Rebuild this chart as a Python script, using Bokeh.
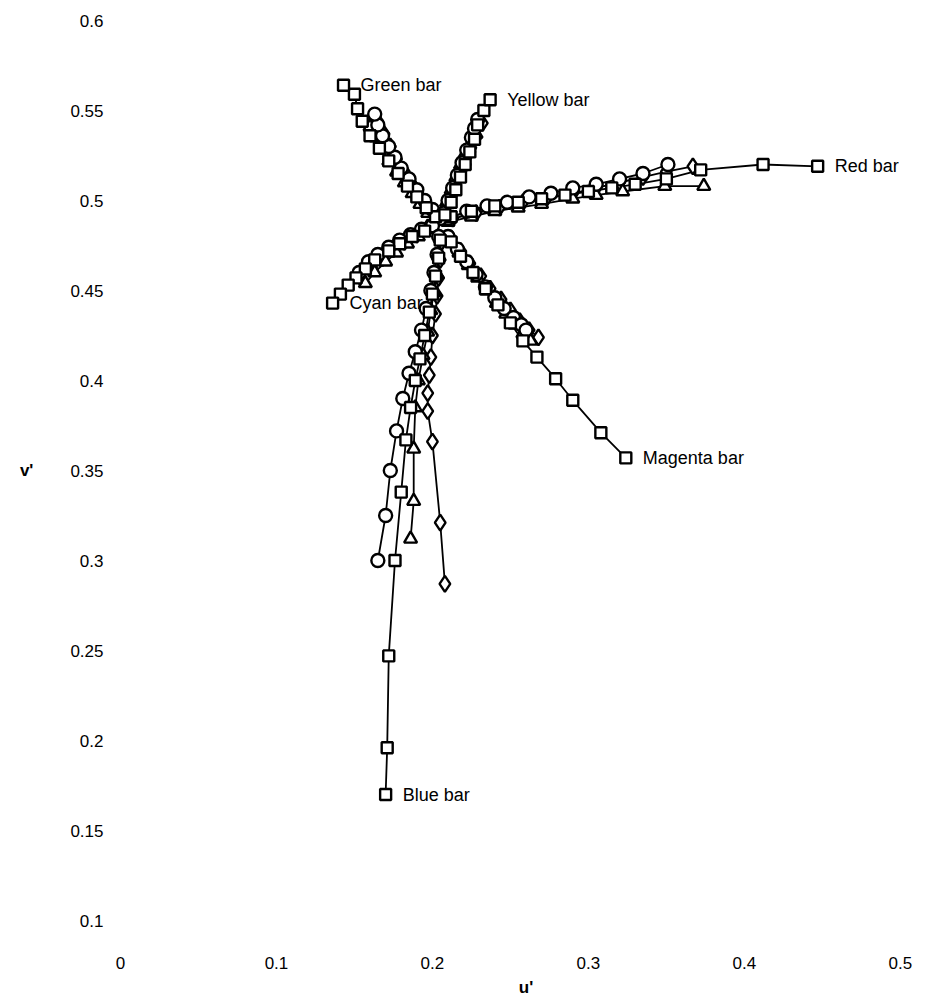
from bokeh.plotting import figure
from bokeh.models import FixedTicker, Range1d
from bokeh.embed import file_html
from bokeh.resources import INLINE
from bokeh.core.properties import value

# ---------------- data (u', v') ----------------
X_TICKS = [0, 0.1, 0.2, 0.3, 0.4, 0.5]
Y_TICKS = [0.1, 0.15, 0.2, 0.25, 0.3, 0.35, 0.4, 0.45, 0.5, 0.55, 0.6]

BAR_NAMES = ["Red bar", "Green bar", "Yellow bar", "Cyan bar", "Magenta bar", "Blue bar"]

# Red bar
red_sq_u = [0.212, 0.225, 0.240, 0.255, 0.270, 0.285, 0.300, 0.315, 0.330, 0.350, 0.372, 0.412, 0.447]
red_sq_v = [0.491, 0.494, 0.497, 0.499, 0.501, 0.503, 0.505, 0.507, 0.509, 0.512, 0.517, 0.520, 0.519]
red_ci_u = [0.210, 0.222, 0.235, 0.248, 0.262, 0.276, 0.290, 0.305, 0.320, 0.335, 0.351]
red_ci_v = [0.490, 0.494, 0.497, 0.499, 0.502, 0.504, 0.507, 0.509, 0.512, 0.515, 0.520]
red_tr_u = [0.210, 0.225, 0.240, 0.255, 0.270, 0.290, 0.305, 0.322, 0.349, 0.374]
red_tr_v = [0.488, 0.491, 0.494, 0.496, 0.498, 0.501, 0.503, 0.505, 0.508, 0.508]
red_di_u = [0.213, 0.228, 0.243, 0.258, 0.273, 0.290, 0.305, 0.320, 0.335, 0.350, 0.367]
red_di_v = [0.490, 0.493, 0.496, 0.499, 0.501, 0.504, 0.507, 0.510, 0.513, 0.516, 0.519]

# Green bar
green_sq_u = [0.202, 0.196, 0.190, 0.184, 0.178, 0.172, 0.166, 0.160, 0.155, 0.152, 0.150, 0.143]
green_sq_v = [0.491, 0.496, 0.502, 0.508, 0.515, 0.522, 0.529, 0.536, 0.544, 0.551, 0.559, 0.564]
green_ci_u = [0.205, 0.200, 0.195, 0.190, 0.185, 0.180, 0.176, 0.172, 0.168, 0.165, 0.163]
green_ci_v = [0.490, 0.495, 0.500, 0.506, 0.512, 0.518, 0.524, 0.530, 0.536, 0.542, 0.548]
green_tr_u = [0.202, 0.197, 0.192, 0.187, 0.182, 0.177, 0.172, 0.168, 0.164, 0.160]
green_tr_v = [0.489, 0.493, 0.498, 0.504, 0.510, 0.516, 0.522, 0.529, 0.535, 0.541]
green_di_u = [0.202, 0.197, 0.192, 0.187, 0.182, 0.177, 0.173, 0.169, 0.165]
green_di_v = [0.490, 0.496, 0.502, 0.509, 0.516, 0.523, 0.530, 0.537, 0.544]

# Yellow bar
yellow_sq_u = [0.208, 0.212, 0.215, 0.218, 0.221, 0.224, 0.227, 0.229, 0.233, 0.237]
yellow_sq_v = [0.492, 0.499, 0.506, 0.513, 0.520, 0.527, 0.534, 0.542, 0.550, 0.556]
yellow_ci_u = [0.207, 0.210, 0.213, 0.216, 0.219, 0.222, 0.225, 0.227, 0.229]
yellow_ci_v = [0.493, 0.500, 0.507, 0.514, 0.521, 0.528, 0.535, 0.540, 0.545]
yellow_tr_u = [0.206, 0.209, 0.212, 0.215, 0.218, 0.221, 0.224, 0.228]
yellow_tr_v = [0.492, 0.499, 0.506, 0.513, 0.520, 0.526, 0.531, 0.537]
yellow_di_u = [0.207, 0.210, 0.214, 0.217, 0.221, 0.224, 0.228, 0.232]
yellow_di_v = [0.491, 0.498, 0.505, 0.513, 0.520, 0.527, 0.535, 0.543]

# Cyan bar
cyan_sq_u = [0.195, 0.187, 0.179, 0.172, 0.163, 0.157, 0.151, 0.146, 0.141, 0.136]
cyan_sq_v = [0.483, 0.480, 0.476, 0.472, 0.467, 0.462, 0.457, 0.453, 0.448, 0.443]
cyan_ci_u = [0.200, 0.193, 0.186, 0.179, 0.172, 0.165, 0.159, 0.153]
cyan_ci_v = [0.486, 0.484, 0.481, 0.478, 0.474, 0.470, 0.466, 0.460]
cyan_tr_u = [0.198, 0.191, 0.184, 0.177, 0.170, 0.163, 0.157]
cyan_tr_v = [0.484, 0.480, 0.476, 0.471, 0.466, 0.460, 0.454]
cyan_di_u = [0.197, 0.190, 0.182, 0.175, 0.168, 0.161, 0.154]
cyan_di_v = [0.485, 0.481, 0.477, 0.473, 0.468, 0.463, 0.457]

# Magenta bar
magenta_sq_u = [0.212, 0.218, 0.226, 0.234, 0.242, 0.250, 0.258, 0.267, 0.279, 0.290, 0.308, 0.324]
magenta_sq_v = [0.477, 0.469, 0.460, 0.451, 0.442, 0.432, 0.422, 0.413, 0.401, 0.389, 0.371, 0.357]
magenta_ci_u = [0.210, 0.216, 0.222, 0.228, 0.234, 0.240, 0.246, 0.252, 0.257, 0.260]
magenta_ci_v = [0.480, 0.473, 0.466, 0.459, 0.452, 0.446, 0.440, 0.435, 0.431, 0.428]
magenta_tr_u = [0.211, 0.217, 0.223, 0.229, 0.235, 0.241, 0.247, 0.253, 0.258, 0.263]
magenta_tr_v = [0.478, 0.471, 0.464, 0.457, 0.450, 0.443, 0.437, 0.431, 0.426, 0.422]
magenta_di_u = [0.212, 0.218, 0.224, 0.231, 0.237, 0.244, 0.250, 0.256, 0.262, 0.268]
magenta_di_v = [0.479, 0.472, 0.465, 0.458, 0.451, 0.445, 0.439, 0.433, 0.428, 0.424]

# Blue bar
blue_sq_u = [0.205, 0.204, 0.202, 0.200, 0.198, 0.195, 0.192, 0.189, 0.186, 0.183, 0.180, 0.176, 0.172, 0.171, 0.170]
blue_sq_v = [0.478, 0.468, 0.458, 0.448, 0.438, 0.425, 0.412, 0.400, 0.385, 0.367, 0.338, 0.300, 0.247, 0.196, 0.170]
blue_ci_u = [0.204, 0.203, 0.201, 0.199, 0.196, 0.193, 0.189, 0.185, 0.181, 0.177, 0.173, 0.170, 0.165]
blue_ci_v = [0.480, 0.470, 0.460, 0.450, 0.440, 0.428, 0.416, 0.404, 0.390, 0.372, 0.350, 0.325, 0.300]
blue_tr_u = [0.205, 0.204, 0.203, 0.201, 0.199, 0.197, 0.194, 0.191, 0.189, 0.188, 0.188, 0.186]
blue_tr_v = [0.479, 0.469, 0.459, 0.449, 0.439, 0.427, 0.414, 0.400, 0.385, 0.362, 0.333, 0.312]
blue_di_u = [0.206, 0.205, 0.204, 0.203, 0.202, 0.200, 0.199, 0.198, 0.197, 0.197, 0.200, 0.205, 0.208]
blue_di_v = [0.477, 0.467, 0.457, 0.447, 0.437, 0.425, 0.413, 0.403, 0.393, 0.383, 0.366, 0.321, 0.287]

# ---------------- figure ----------------
FONT = "Liberation Sans"

p = figure(width=933, height=1006, output_backend="svg", toolbar_location=None,
           x_range=Range1d(0, 0.52), y_range=Range1d(0.1, 0.6),
           min_border_left=120, min_border_right=2, min_border_top=20,
           min_border_bottom=86)
p.outline_line_color = None
p.grid.visible = False
p.background_fill_color = "white"

for ax in (p.xaxis[0], p.yaxis[0]):
    ax.axis_line_color = None
    ax.major_tick_line_color = None
    ax.minor_tick_line_color = None
    ax.major_tick_out = 0
    ax.major_tick_in = 0
    ax.minor_tick_out = 0
    ax.minor_tick_in = 0
    ax.major_label_text_font = FONT
    ax.major_label_text_font_size = "17px"
    ax.major_label_text_color = "black"
    ax.axis_label_text_font = FONT
    ax.axis_label_text_font_size = "17px"
    ax.axis_label_text_font_style = "bold"
    ax.axis_label_text_color = "black"

p.xaxis.ticker = FixedTicker(ticks=X_TICKS)
p.yaxis.ticker = FixedTicker(ticks=Y_TICKS)
p.xaxis.major_label_overrides = {t: f"{t:g}" for t in X_TICKS}
p.yaxis.major_label_overrides = {t: f"{t:g}" for t in Y_TICKS}
p.xaxis.major_label_standoff = 36
p.yaxis.major_label_standoff = 17
p.xaxis.axis_label = "u'"
p.yaxis.axis_label = "v'"
p.yaxis.axis_label_orientation = "horizontal"
p.yaxis.axis_label_standoff = 34
p.xaxis.axis_label_standoff = 6

series = {
    "square": [(red_sq_u, red_sq_v), (green_sq_u, green_sq_v), (yellow_sq_u, yellow_sq_v),
               (cyan_sq_u, cyan_sq_v), (magenta_sq_u, magenta_sq_v), (blue_sq_u, blue_sq_v)],
    "circle": [(red_ci_u, red_ci_v), (green_ci_u, green_ci_v), (yellow_ci_u, yellow_ci_v),
               (cyan_ci_u, cyan_ci_v), (magenta_ci_u, magenta_ci_v), (blue_ci_u, blue_ci_v)],
    "triangle": [(red_tr_u, red_tr_v), (green_tr_u, green_tr_v), (yellow_tr_u, yellow_tr_v),
                 (cyan_tr_u, cyan_tr_v), (magenta_tr_u, magenta_tr_v), (blue_tr_u, blue_tr_v)],
    "diamond": [(red_di_u, red_di_v), (green_di_u, green_di_v), (yellow_di_u, yellow_di_v),
                (cyan_di_u, cyan_di_v), (magenta_di_u, magenta_di_v), (blue_di_u, blue_di_v)],
}
sizes = {"square": 11, "circle": 13, "triangle": 13, "diamond": 16}

for mk, lst in series.items():
    for u, v in lst:
        p.line(u, v, line_color="black", line_width=1.8)

for mk in ["diamond", "triangle", "circle", "square"]:
    for u, v in series[mk]:
        p.scatter(u, v, marker=mk, size=sizes[mk], fill_color="white",
                  line_color="black", line_width=2.4)

# bar labels placed just right of the outermost square of each bar
ends = series["square"]
lab_u = [u[-1] for u, v in ends]
lab_v = [v[-1] for u, v in ends]
p.text(lab_u, lab_v, text=BAR_NAMES, x_offset=17, text_baseline="middle",
       text_align="left", text_font=value(FONT), text_font_size="18px",
       text_color="black")

open("out.html", "w").write(file_html(p, INLINE))
